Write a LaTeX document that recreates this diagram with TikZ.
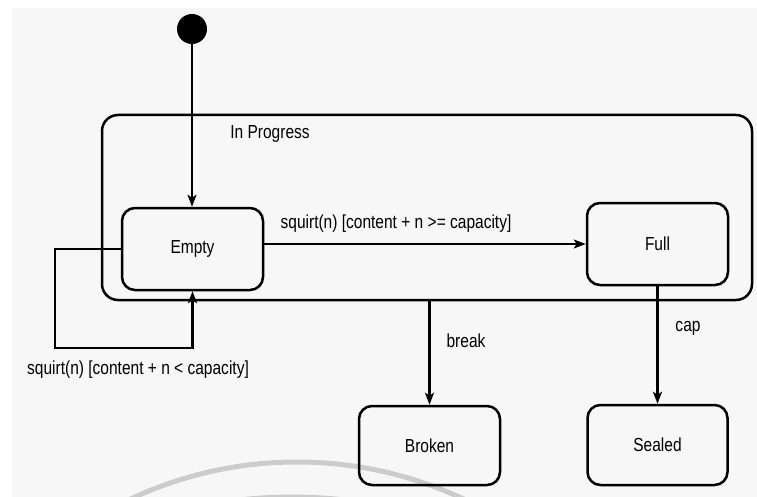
\documentclass[tikz,border=0pt]{standalone}
\usepackage{fontspec}
\usepackage{graphicx}
\setmainfont{Liberation Sans}
\usetikzlibrary{arrows.meta}

% labels are set slightly tall and narrow
\newcommand{\tall}[1]{\scalebox{0.97}[1.18]{#1}}

\tikzset{
  state/.style={draw, line width=2.5pt, rounded corners=13pt, align=center,
    font=\fontsize{16}{18}\selectfont},
  composite/.style={draw, line width=2.5pt, rounded corners=16pt},
  lbl/.style={font=\fontsize{16}{18}\selectfont, inner sep=1pt},
  arr/.style={line width=2.3pt, -{Stealth[length=12pt,width=9pt,inset=3pt]}},
  initial/.style={circle, fill=black, inner sep=0pt, minimum size=30pt},
  watermark/.style={draw=black!20, line width=5pt}
}

\begin{document}
\begin{tikzpicture}[x=1pt, y=-1pt]
  % page and faint paper tone
  \fill[white] (0,0) rectangle (757,497);
  \fill[black!3] (12,8) rectangle (757,497);
  \useasboundingbox (0,0) rectangle (757,497);

  % faint stamp arcs near the bottom edge
  \begin{scope}
    \clip (0,0) rectangle (757,497);
    \draw[watermark] (297,854) circle (392pt);
    \draw[watermark] (292,961) circle (464pt);
  \end{scope}

  % composite state
  \node[composite, minimum width=650pt, minimum height=185pt] (prog) at (427,207.5) {};
  \node[lbl] (progname) at (270,134) {\tall{In Progress}};

  % states
  \node[initial] (init) at (192,29) {};
  \node[state, minimum width=141pt, minimum height=82pt] (empty) at (192.5,249) {\tall{Empty}};
  \node[state, minimum width=141pt, minimum height=82pt] (full) at (657.5,244) {\tall{Full}};
  \node[state, minimum width=141pt, minimum height=79pt] (broken) at (429.5,445.5) {\tall{Broken}};
  \node[state, minimum width=140pt, minimum height=80pt] (sealed) at (657.5,445) {\tall{Sealed}};

  % transitions
  \draw[arr] (init.south) -- (init.south |- empty.north);

  \draw[arr] (full.west -| empty.east) -- (full.west);
  \node[lbl] (fulllbl) at (396,224) {\tall{squirt(n) [content + n >= capacity]}};

  \coordinate (loopc) at (55,348);
  \draw[arr] (empty.west) -| (loopc) -| (empty.south);
  \node[lbl] (looplbl) at (138,370) {\tall{squirt(n) [content + n < capacity]}};

  \draw[arr] (broken.north |- prog.south) -- (broken.north);
  \node[lbl] (breaklbl) at (466,341) {\tall{break}};

  \draw[arr] (full.south) -- (sealed.north);
  \node[lbl] (caplbl) at (688,328) {\tall{cap}};
\end{tikzpicture}
\end{document}
